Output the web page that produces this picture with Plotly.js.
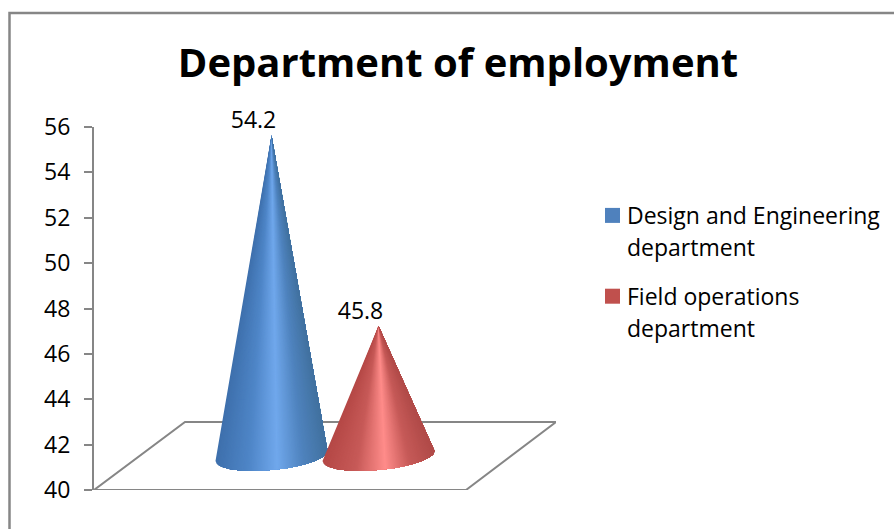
<!DOCTYPE html>
<html>
<head>
<meta charset="utf-8">
<script src="https://cdn.plot.ly/plotly-3.0.1.min.js"></script>
<style>html,body{margin:0;padding:0;background:#fff}#chart{width:894px;height:529px}</style>
</head>
<body>
<div id="chart"></div>
<script>
// Data
const categories = ['Design and Engineering<br>department', 'Field operations<br>department'];
const values = [54.2, 45.8];
const tickLabels = ['40','42','44','46','48','50','52','54','56'];
const tickValues = [40,42,44,46,48,50,52,54,56];
const baseColors = ['#4f81bd', '#c0504d'];

// Style / layout
const W = 894, H = 529;
const PL = 94, PR = 556, PT = 127, PB = 490;
const FONT = '"Open Sans", sans-serif';
const GRAY = '#868686';
const coneCentres = [177.5, 284.5];
const halfWidth = 56;
const tiltPx = 5, depthPx = 14;
const yPerPx = 16 / (PB - PT);
const baseRaise = 1.5, apexRaise = 1.43;
const labelShift = 18, labelRaise = 0.06;
const shades = [
  [[0,'#3e70ac'],[0.3,'#4f86c8'],[0.55,'#70a8ec'],[0.78,'#4f83be'],[1,'#41719f']],
  [[0,'#b54846'],[0.3,'#c75a58'],[0.56,'#ff8c8a'],[0.78,'#c65a58'],[1,'#b04a48']]
];

function hex(c){return [1,3,5].map(i=>parseInt(c.substr(i,2),16));}
function shade(stops,u){
  for(let i=1;i<stops.length;i++){
    if(u<=stops[i][0]){
      const f=(u-stops[i-1][0])/(stops[i][0]-stops[i-1][0]);
      const a=hex(stops[i-1][1]),b=hex(stops[i][1]);
      return 'rgb('+a.map((v,k)=>Math.round(v+(b[k]-v)*f)).join(',')+')';
    }
  }
  return stops[stops.length-1][1];
}

const traces = [];
// floor of the 3-D chart
traces.push({type:'scatter',mode:'lines',x:[0,91,462,372,0],y:[40,43,43,40,40],
  line:{color:GRAY,width:2},showlegend:false,hoverinfo:'skip'});

// cones: each slice covers the rest of the cone, so the next one paints over it with no seam
const SLICES = 90;
values.forEach((v,c)=>{
  const apexY = v + apexRaise, baseY = 40 + baseRaise, cx = coneCentres[c];
  const pt = u => {
    const t = Math.acos(1-2*u);            // left (u=0) to right (u=1)
    const dx = -Math.cos(t)*halfWidth;
    const dyPx = -Math.sin(t)*depthPx - Math.cos(t)*tiltPx;
    return [cx+dx, baseY + dyPx*yPerPx];
  };
  for(let i=0;i<SLICES;i++){
    const xs=[cx], ys=[apexY];
    for(let j=i;j<=SLICES;j++){ const p=pt(j/SLICES); xs.push(p[0]); ys.push(p[1]); }
    xs.push(cx); ys.push(apexY);
    traces.push({type:'scatter',mode:'none',x:xs,y:ys,fill:'toself',
      fillcolor:shade(shades[c],(i+0.5)/SLICES),
      showlegend:false,legendgroup:'s'+c,hoverinfo:'skip',cliponaxis:false});
  }
});

// legend entries
categories.forEach((name,c)=>{
  traces.push({type:'scatter',mode:'markers',x:[-999],y:[-999],name:name,legendgroup:'s'+c,
    marker:{symbol:'square',size:15,color:baseColors[c]},hoverinfo:'skip'});
});

// data labels
traces.push({type:'scatter',mode:'text',showlegend:false,cliponaxis:false,hoverinfo:'skip',
  x:coneCentres.map(x=>x-labelShift),
  y:values.map(v=>v+apexRaise+labelRaise),
  text:values.map(v=>v.toFixed(1)),textposition:'top center',
  textfont:{family:FONT,size:23,color:'#000'}});

const layout = {
  width:W,height:H,autosize:false,
  paper_bgcolor:'#fff',plot_bgcolor:'rgba(0,0,0,0)',
  margin:{l:PL,r:W-PR,t:PT,b:H-PB,pad:0,autoexpand:false},
  font:{family:FONT,color:'#000'},
  title:{text:'<b>Department of employment</b>',font:{family:FONT,size:40,color:'#000'},
    x:458/W,xanchor:'center',xref:'container',y:1-63/H,yanchor:'middle'},
  xaxis:{range:[0,PR-PL],visible:false,fixedrange:true},
  yaxis:{range:[40,56],tickvals:tickValues,ticktext:tickLabels,showgrid:false,zeroline:false,
    showline:true,linecolor:GRAY,linewidth:2,ticks:'outside',ticklen:8,tickwidth:2,tickcolor:GRAY,
    ticklabelstandoff:9,tickfont:{family:FONT,size:23,color:'#000'},fixedrange:true},
  legend:{x:(587-PL)/(PR-PL),y:(PB-194)/(PB-PT),xanchor:'left',yanchor:'top',
    font:{family:FONT,size:23,color:'#000'},itemsizing:'trace',itemwidth:30,tracegroupgap:18,
    bgcolor:'rgba(0,0,0,0)'},
  shapes:[{type:'rect',xref:'paper',yref:'paper',
    x0:(9.5-PL)/(PR-PL),x1:(900-PL)/(PR-PL),y0:(PB-540)/(PB-PT),y1:(PB-13)/(PB-PT),
    line:{color:GRAY,width:2.5},fillcolor:'rgba(0,0,0,0)',layer:'below'}]
};
Plotly.newPlot('chart',traces,layout,{displayModeBar:false,staticPlot:true}).then(()=>{
  // the reference keys sit beside the first line of each entry, closer to the text
  document.querySelectorAll('.legendsymbols').forEach(g=>g.setAttribute('transform','translate(5.5,-15)'));
  document.querySelectorAll('.legendtext tspan.line').forEach(l=>{
    if(parseFloat(l.getAttribute('dy'))>0) l.setAttribute('dy','1.37em');
  });
});
</script>
</body>
</html>
